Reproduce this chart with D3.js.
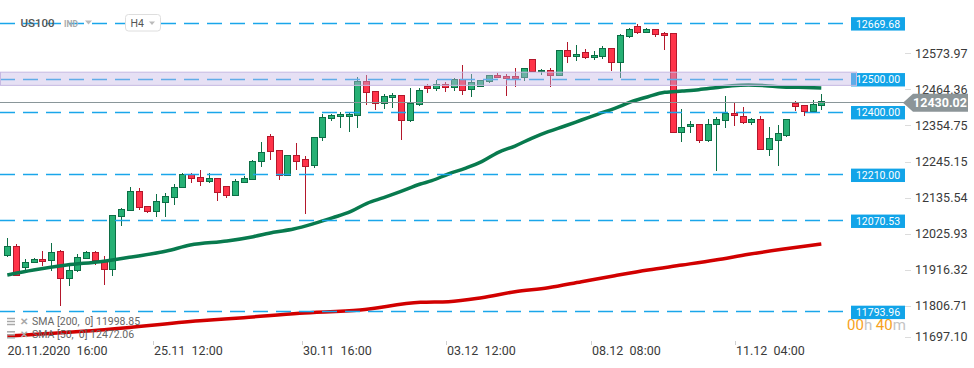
<!DOCTYPE html>
<html lang="en">
<head>
<meta charset="utf-8">
<title>US100 H4</title>
<script src="https://d3js.org/d3.v7.min.js"></script>
<style>
  body { margin: 0; background: #fff; }
  svg { display: block; font-family: Roboto, "Noto Sans", sans-serif; }
</style>
</head>
<body>
<script>
var width = 974, height = 368;

// H4 candles: [open, high, low, close]
var candles = [
  [11965.1, 12015.7, 11960.0, 11992.4], [11992.4, 11997.5, 11904.4, 11904.4],
  [11927.6, 11951.9, 11919.6, 11942.8], [11942.8, 11955.0, 11940.8, 11951.9],
  [11951.9, 11977.2, 11932.7, 11944.8], [11947.9, 12000.5, 11917.5, 11973.2],
  [11976.2, 11980.3, 11811.3, 11894.3], [11894.3, 11932.7, 11872.0, 11918.5],
  [11917.5, 11968.1, 11914.5, 11958.0], [11955.0, 11978.2, 11952.9, 11973.2],
  [11973.2, 11976.2, 11934.7, 11949.9], [11944.8, 11962.0, 11874.0, 11921.6],
  [11921.6, 12085.5, 11902.4, 12085.5], [12082.4, 12106.7, 12054.1, 12103.7],
  [12099.6, 12170.5, 12098.6, 12158.3], [12158.3, 12167.4, 12101.7, 12108.7],
  [12112.8, 12114.8, 12093.6, 12097.6], [12096.6, 12150.2, 12079.4, 12128.0],
  [12124.9, 12152.2, 12081.4, 12143.1], [12140.1, 12179.6, 12116.8, 12170.5],
  [12170.5, 12212.9, 12169.4, 12209.9], [12209.9, 12212.9, 12184.6, 12197.8],
  [12200.8, 12223.1, 12175.5, 12188.7], [12188.7, 12212.9, 12184.6, 12197.8],
  [12197.8, 12197.8, 12130.0, 12155.3], [12173.5, 12173.5, 12139.1, 12146.2],
  [12146.2, 12196.8, 12146.2, 12188.7], [12185.6, 12205.9, 12184.6, 12197.8],
  [12194.7, 12253.4, 12193.7, 12250.4], [12249.4, 12308.0, 12233.2, 12274.7],
  [12325.2, 12333.3, 12253.4, 12279.7], [12282.7, 12282.7, 12193.7, 12206.9],
  [12206.9, 12267.6, 12203.8, 12267.6], [12267.6, 12305.0, 12223.1, 12248.4],
  [12255.4, 12266.6, 12088.5, 12233.2], [12236.2, 12322.2, 12230.1, 12322.2],
  [12322.2, 12393.0, 12312.1, 12382.9], [12379.9, 12393.0, 12371.8, 12389.0],
  [12385.9, 12400.1, 12351.5, 12393.0], [12385.9, 12398.1, 12337.4, 12393.0],
  [12389.0, 12505.3, 12351.5, 12493.2], [12493.2, 12511.4, 12420.3, 12457.8],
  [12461.8, 12461.8, 12405.2, 12425.4], [12425.4, 12452.7, 12409.2, 12446.6],
  [12443.6, 12456.8, 12412.2, 12450.7], [12449.7, 12449.7, 12315.1, 12373.8],
  [12373.8, 12472.9, 12369.8, 12425.4], [12422.4, 12470.9, 12417.3, 12464.9],
  [12478.0, 12484.1, 12457.8, 12470.9], [12470.9, 12496.2, 12463.8, 12482.1],
  [12483.1, 12489.1, 12460.8, 12474.0], [12474.0, 12501.3, 12463.8, 12498.2],
  [12498.2, 12541.7, 12450.7, 12463.8], [12466.9, 12513.4, 12445.6, 12488.1],
  [12477.0, 12495.2, 12476.0, 12495.2], [12491.2, 12511.4, 12488.1, 12510.4],
  [12510.4, 12517.5, 12501.3, 12503.3], [12507.3, 12513.4, 12448.7, 12500.3],
  [12507.3, 12532.6, 12476.0, 12500.3], [12503.3, 12531.6, 12494.2, 12531.6],
  [12558.9, 12558.9, 12521.5, 12521.5], [12521.5, 12529.6, 12512.4, 12525.6],
  [12525.6, 12532.6, 12476.0, 12511.4], [12511.4, 12586.3, 12508.4, 12586.3],
  [12586.3, 12610.5, 12548.8, 12567.0], [12567.0, 12602.4, 12554.9, 12574.1],
  [12580.2, 12589.3, 12561.0, 12564.0], [12564.0, 12584.2, 12555.9, 12571.1],
  [12567.0, 12598.4, 12561.0, 12592.3], [12592.3, 12592.3, 12524.5, 12549.8],
  [12549.8, 12635.8, 12503.3, 12631.8], [12628.8, 12653.0, 12624.7, 12650.0],
  [12659.1, 12665.2, 12636.8, 12640.9], [12641.9, 12653.0, 12639.9, 12650.0],
  [12650.0, 12650.0, 12627.7, 12633.8], [12637.9, 12641.9, 12588.3, 12630.8],
  [12637.9, 12637.9, 12337.4, 12337.4], [12337.4, 12408.2, 12309.1, 12352.6],
  [12355.6, 12370.8, 12336.4, 12361.7], [12361.7, 12361.7, 12306.0, 12313.1],
  [12313.1, 12377.8, 12307.0, 12361.7], [12361.7, 12382.9, 12221.0, 12376.8],
  [12372.8, 12447.7, 12351.5, 12395.0], [12395.0, 12427.4, 12357.6, 12389.0],
  [12385.9, 12414.3, 12363.7, 12367.7], [12367.7, 12379.9, 12358.6, 12376.8],
  [12376.8, 12385.9, 12285.8, 12285.8], [12285.8, 12352.6, 12266.6, 12319.2],
  [12313.1, 12358.6, 12236.2, 12334.3], [12328.3, 12376.8, 12324.2, 12376.8],
  [12425.4, 12431.5, 12403.1, 12416.3], [12419.3, 12419.3, 12388.0, 12401.1],
  [12401.1, 12435.5, 12400.1, 12422.4], [12419.3, 12453.7, 12406.2, 12430.02]
];

// moving averages: [candle index, value]
var sma50 = [
  [0, 11904.4], [3, 11919.6], [6.8, 11934.7], [10.6, 11944.8], [14.4, 11960.0],
  [18.2, 11977.2], [20.9, 11995.4], [25.1, 12007.6], [28.1, 12020.7], [30.4, 12033.9],
  [32.7, 12044.0], [35.0, 12060.2], [37.2, 12078.4], [39.2, 12096.6], [41.1, 12121.9],
  [43.0, 12139.1], [44.9, 12157.3], [47.2, 12180.6], [48.5, 12190.7], [50.4, 12211.0],
  [52.3, 12228.1], [54.2, 12248.4], [56.1, 12276.7], [58.0, 12295.9], [59.9, 12319.2],
  [61.8, 12339.4], [63.7, 12356.6], [65.6, 12374.8], [67.5, 12393.0], [69.4, 12410.2],
  [71.3, 12430.4], [73.2, 12445.6], [75.1, 12458.8], [77.1, 12462.8], [79.0, 12466.9],
  [80.9, 12472.9], [82.8, 12479.0], [84.7, 12481.0], [86.6, 12479.0], [88.5, 12475.0],
  [90.4, 12474.0], [93, 12472.06]
];
var sma200 = [
  [0, 11719.2], [10.6, 11737.5], [22.0, 11765.7], [27.0, 11775.0], [33.4, 11788.1],
  [40.3, 11798.2], [47.2, 11821.5], [50.4, 11823.4], [54.2, 11835.5], [58.0, 11853.7],
  [61.8, 11865.8], [65.6, 11884.1], [69.4, 11902.3], [73.2, 11919.6], [77.1, 11934.7],
  [80.9, 11949.9], [84.7, 11967.2], [88.5, 11982.4], [93, 11998.85]
];

var levels = [12669.68, 12500.00, 12400.00, 12210.00, 12070.53, 11793.96];
var zone = [12480, 12520];
var lastPrice = 12430.02;
var priceTicks = [12573.97, 12464.36, 12354.75, 12245.15, 12135.54, 12025.93, 11916.32, 11806.71, 11697.10];
var timeLabels = ["20.11.2020  16:00", "25.11  12:00", "30.11  16:00", "03.12  12:00", "08.12  08:00", "11.12  04:00"];
var timePos = [0, 17, 34, 50.5, 67, 83.5];

var plotRight = 851;

var svg = d3.select("body").append("svg")
  .attr("width", width)
  .attr("height", height);

var x = d3.scaleLinear().domain([0, candles.length - 1]).range([7.3, 821.3]);
var y = d3.scaleLinear().domain([11697.10, 12573.97]).range([343.3, 54.4]);

var plot = svg.append("g");

// candles
var up = { fill: "#26b074", stroke: "#0c6e45" };
var down = { fill: "#ff3349", stroke: "#b3172b" };

var cg = plot.append("g").attr("shape-rendering", "crispEdges");
candles.forEach(function (d, i) {
  var c = d[3] >= d[0] ? up : down;
  var cx = Math.round(x(i));
  cg.append("line")
    .attr("x1", cx + 0.5).attr("x2", cx + 0.5)
    .attr("y1", y(d[1])).attr("y2", y(d[2]))
    .attr("stroke", c.stroke).attr("stroke-width", 1);
  var top = y(Math.max(d[0], d[3])), bot = y(Math.min(d[0], d[3]));
  cg.append("rect")
    .attr("x", cx - 2.5).attr("width", 6)
    .attr("y", top).attr("height", Math.max(1, bot - top))
    .attr("fill", c.fill).attr("stroke", c.stroke).attr("stroke-width", 1);
});

// moving averages
var line = d3.line()
  .x(function (d) { return x(d[0]); })
  .y(function (d) { return y(d[1]); })
  .curve(d3.curveMonotoneX);

plot.append("path").datum(sma200)
  .attr("d", line).attr("fill", "none")
  .attr("stroke", "#d10000").attr("stroke-width", 3.5);
plot.append("path").datum(sma50)
  .attr("d", line).attr("fill", "none")
  .attr("stroke", "#087a4e").attr("stroke-width", 3.5);

// horizontal levels
plot.selectAll(".lvl").data(levels).enter().append("line")
  .attr("class", "lvl")
  .attr("x1", 0).attr("x2", plotRight)
  .attr("y1", function (d) { return Math.round(y(d)) + 0.5; })
  .attr("y2", function (d) { return Math.round(y(d)) + 0.5; })
  .attr("stroke", "#1aa6ea").attr("stroke-width", 1.5)
  .attr("stroke-dasharray", "15,8");

// current price line
plot.append("line")
  .attr("x1", 0).attr("x2", 905)
  .attr("y1", Math.round(y(lastPrice)) + 0.5).attr("y2", Math.round(y(lastPrice)) + 0.5)
  .attr("stroke", "#8a9699").attr("stroke-width", 1.2);

// level labels
var lb = svg.append("g");
levels.forEach(function (v) {
  var cy = y(v) + 1;
  lb.append("rect")
    .attr("x", 851).attr("y", cy - 6.7).attr("width", 54).attr("height", 13.4)
    .attr("fill", "#12a4e8");
  lb.append("text")
    .attr("x", 878).attr("y", cy).attr("dy", "0.35em")
    .attr("text-anchor", "middle")
    .attr("font-size", "10.5px").attr("fill", "#fff")
    .text(v.toFixed(2));
});

// zone band
svg.append("rect")
  .attr("x", 0.5).attr("y", y(zone[1]))
  .attr("width", 856).attr("height", y(zone[0]) - y(zone[1]))
  .attr("fill", "rgba(196,182,228,0.42)")
  .attr("stroke", "#c6b9e2").attr("stroke-width", 1);

// price axis
var ax = svg.append("g");
priceTicks.forEach(function (v) {
  var ty = Math.min(y(v) - 1.2, 337);
  ax.append("line")
    .attr("x1", 905).attr("x2", 911)
    .attr("y1", Math.round(ty) + 0.5).attr("y2", Math.round(ty) + 0.5)
    .attr("stroke", "#dcdcdc");
  ax.append("text")
    .attr("x", 915).attr("y", ty).attr("dy", "0.35em")
    .attr("font-size", "12.5px").attr("fill", "#3a3a3a")
    .text(v.toFixed(2));
});

// last price tag
var ly = y(lastPrice) + 1;
svg.append("path")
  .attr("d", "M903," + ly + "L913," + (ly - 9) + "L968," + (ly - 9) + "L968," + (ly + 9) + "L913," + (ly + 9) + "Z")
  .attr("fill", "#8c9598");
svg.append("text")
  .attr("x", 940).attr("y", ly).attr("dy", "0.36em")
  .attr("text-anchor", "middle")
  .attr("font-size", "12.5px").attr("font-weight", "bold").attr("fill", "#fff")
  .text(lastPrice.toFixed(2));

// time axis
var tx = svg.append("g");
timeLabels.forEach(function (t, i) {
  var px = Math.round(x(timePos[i])) - 3;
  if (i > 0) {
    tx.append("line")
      .attr("x1", px + 0.5).attr("x2", px + 0.5)
      .attr("y1", 341).attr("y2", 345)
      .attr("stroke", "#d0d0d0");
  }
  tx.append("text")
    .attr("x", i === 0 ? 7.5 : px + 1).attr("y", 351).attr("dy", "0.35em")
    .attr("font-size", "12.5px").attr("fill", "#3a3a3a")
    .style("white-space", "pre")
    .text(t);
});

// countdown
var cd = svg.append("text")
  .attr("x", 847).attr("y", 324.5).attr("dy", "0.35em")
  .attr("font-size", "15px");
cd.append("tspan").attr("fill", "#f7a21b").text("00");
cd.append("tspan").attr("fill", "#c4c4c4").text("h ");
cd.append("tspan").attr("fill", "#f7a21b").text("40");
cd.append("tspan").attr("fill", "#c4c4c4").text("m");

// header
var hd = svg.append("g");
hd.append("text")
  .attr("x", 20.5).attr("y", 23).attr("dy", "0.35em")
  .attr("font-size", "11.5px").attr("font-weight", 500).attr("fill", "#555")
  .text("US100");
hd.append("text")
  .attr("x", 64).attr("y", 24).attr("dy", "0.35em")
  .attr("font-size", "8.5px").attr("font-weight", "bold").attr("fill", "#aaa")
  .text("IND");
hd.append("path").attr("d", "M85,20.5L92,20.5L88.5,24.5Z").attr("fill", "#bbb");
hd.append("rect")
  .attr("x", 125.5).attr("y", 14.5).attr("width", 35).attr("height", 16.5).attr("rx", 3)
  .attr("fill", "#fff").attr("stroke", "#dedede");
hd.append("text")
  .attr("x", 130.5).attr("y", 23).attr("dy", "0.35em")
  .attr("font-size", "10.5px").attr("fill", "#555")
  .text("H4");
hd.append("path").attr("d", "M149,21.5L155,21.5L152,25Z").attr("fill", "#bbb");

// indicator legend
var legendRows = ["SMA [200,  0] 11998.85", "SMA [50,  0] 12472.06"];
legendRows.forEach(function (t, i) {
  var ly2 = 321.5 + i * 13.3;
  var g = svg.append("g");
  [-3, 0, 3].forEach(function (o) {
    g.append("line")
      .attr("x1", 7).attr("x2", 15)
      .attr("y1", ly2 + o).attr("y2", ly2 + o)
      .attr("stroke", "#a8a8a8").attr("stroke-width", 1.5);
  });
  g.append("text")
    .attr("x", 20).attr("y", ly2).attr("dy", "0.35em")
    .attr("font-size", "10px").attr("font-weight", "bold").attr("fill", "#a8a8a8")
    .text("\u2715");
  g.append("text")
    .attr("x", 32).attr("y", ly2).attr("dy", "0.35em")
    .attr("font-size", "10.5px").attr("fill", "#666")
    .style("white-space", "pre")
    .text(t);
});
</script>
</body>
</html>
